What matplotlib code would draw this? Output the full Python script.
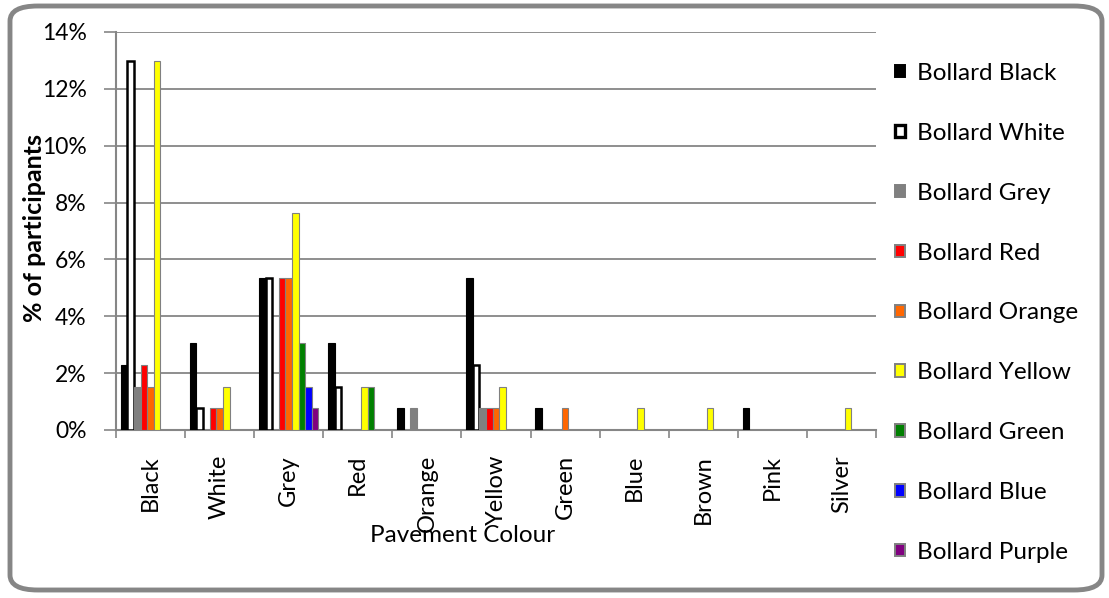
import numpy as np
import matplotlib.pyplot as plt
from matplotlib.patches import FancyBboxPatch, Rectangle

plt.rcParams['font.family'] = ['Lato', 'DejaVu Sans']

pavement = ['Black', 'White', 'Grey', 'Red', 'Orange', 'Yellow', 'Green',
            'Blue', 'Brown', 'Pink', 'Silver']
bollards = ['Bollard Black', 'Bollard White', 'Bollard Grey', 'Bollard Red',
            'Bollard Orange', 'Bollard Yellow', 'Bollard Green', 'Bollard Blue',
            'Bollard Purple']

# % of participants per pavement colour, one list per bollard colour
b_black  = [2.29, 3.05, 5.34, 3.05, 0.76, 5.34, 0.76, 0, 0, 0.76, 0]
b_white  = [12.98, 0.76, 5.34, 1.53, 0, 2.29, 0, 0, 0, 0, 0]
b_grey   = [1.53, 0, 0, 0, 0.76, 0.76, 0, 0, 0, 0, 0]
b_red    = [2.29, 0.76, 5.34, 0, 0, 0.76, 0, 0, 0, 0, 0]
b_orange = [1.53, 0.76, 5.34, 0, 0, 0.76, 0.76, 0, 0, 0, 0]
b_yellow = [12.98, 1.53, 7.63, 1.53, 0, 1.53, 0, 0.76, 0.76, 0, 0.76]
b_green  = [0, 0, 3.05, 1.53, 0, 0, 0, 0, 0, 0, 0]
b_blue   = [0, 0, 1.53, 0, 0, 0, 0, 0, 0, 0, 0]
b_purple = [0, 0, 0.76, 0, 0, 0, 0, 0, 0, 0, 0]

series = [b_black, b_white, b_grey, b_red, b_orange, b_yellow, b_green, b_blue, b_purple]
fills = ['black', 'white', '#808080', '#ff0000', '#ff6600', '#ffff00', '#008000', '#0000ff', '#800080']
edges = ['black', 'black', '#808080', '#808080', '#808080', '#808080', '#808080', '#808080', '#808080']
lws = [0.8, 1.8, 0.8, 0.8, 0.8, 0.8, 0.8, 0.8, 0.8]

grid_c = '#868686'

fig = plt.figure(figsize=(11.09, 5.98), dpi=100)
ax = fig.add_axes([116 / 1109, 168 / 598, 760 / 1109, 398 / 598])

x = np.arange(len(pavement))
w = 0.0957
handles = []
for i, vals in enumerate(series):
    vals = np.array(vals)
    h = ax.bar(x + (i - 4) * w, vals, w, color=fills[i], edgecolor=edges[i],
               linewidth=lws[i], zorder=3)
    # hide outlines of empty bars
    for p, v in zip(h.patches, vals):
        if v == 0:
            p.set_visible(False)
    handles.append(Rectangle((0, 0), 1, 1, facecolor=fills[i],
                             edgecolor=edges[i], linewidth=lws[i] + 0.6,
                             label=bollards[i]))

ax.set_xlim(-0.5, len(pavement) - 0.5)
ax.set_ylim(0, 14)
ax.set_yticks(np.arange(0, 15, 2))
ax.set_yticklabels([f'{v}%' for v in range(0, 15, 2)], fontsize=16.5)
ax.yaxis.grid(True, color=grid_c, linewidth=1.3, zorder=0)
ax.set_axisbelow(True)

ax.set_xticks(x)
ax.set_xticklabels(pavement, rotation=90, fontsize=17)
ax.set_xticks(np.arange(-0.5, len(pavement)), minor=True)
ax.tick_params(axis='x', which='major', length=0, pad=18)
ax.tick_params(axis='x', which='minor', length=6, color=grid_c, width=1.2)
ax.tick_params(axis='y', length=9, color=grid_c, width=1.2, pad=12)

for s in ['top', 'right']:
    ax.spines[s].set_visible(False)
for s in ['left', 'bottom']:
    ax.spines[s].set_color(grid_c)
    ax.spines[s].set_linewidth(1.5)

fig.text(35 / 1109, 1 - 228 / 598, '% of participants', rotation=90,
         ha='center', va='center', fontsize=18, fontweight='bold')
fig.text(463 / 1109, 1 - 536 / 598, 'Pavement Colour', ha='center',
         va='center', fontsize=17.5)

leg = fig.legend(handles=handles, loc='upper left',
                 bbox_to_anchor=(873 / 1109, 1 - 41 / 598), frameon=False,
                 fontsize=17.5, handlelength=0.4, handleheight=0.4,
                 handletextpad=0.5, labelspacing=1.6)

border = FancyBboxPatch((10 / 1109, 8 / 598), 1092 / 1109, 584 / 598,
                        boxstyle='round,pad=0,rounding_size=0.025',
                        transform=fig.transFigure, facecolor='none',
                        edgecolor='#868686', linewidth=3.5)
fig.patches.append(border)

fig.savefig('out.png', dpi=100)
